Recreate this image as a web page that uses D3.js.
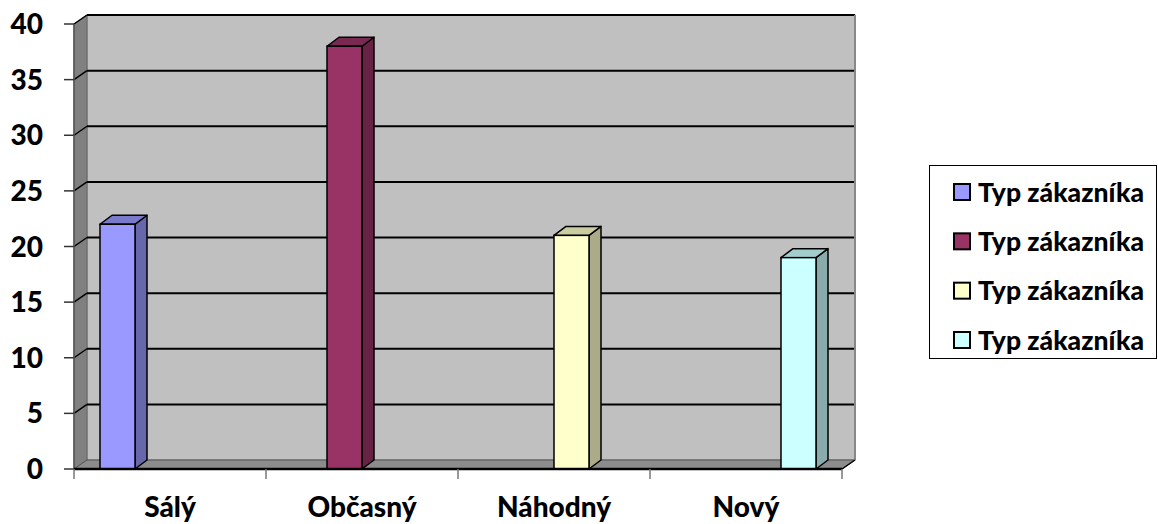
<!DOCTYPE html>
<html>
<head>
<meta charset="utf-8">
<script src="https://cdn.jsdelivr.net/npm/d3@7"></script>
<style>
  html, body { margin: 0; padding: 0; background: #fff; }
  svg { display: block; }
  text { font-family: "Lato", "Open Sans", sans-serif; font-weight: 900; fill: #000; }
</style>
</head>
<body>
<svg id="chart" width="1158" height="524"></svg>
<script>
// ---- data ----
const categories = ["Sálý", "Občasný", "Náhodný", "Nový"];
const seriesNames = ["Typ zákazníka", "Typ zákazníka", "Typ zákazníka", "Typ zákazníka"];
const series1 = [22, null, null, null];
const series2 = [null, 38, null, null];
const series3 = [null, null, 21, null];
const series4 = [null, null, null, 19];
const yTicks = [0, 5, 10, 15, 20, 25, 30, 35, 40];
const seriesColors = ["#9999FF", "#993366", "#FFFFCC", "#CCFFFF"];

const allSeries = [series1, series2, series3, series4];

// ---- layout ----
const svg = d3.select("#chart");
const front = { left: 74, right: 842, top: 24, bottom: 469 };
const depth = { dx: 13, dy: -9 };
const barDepth = { dx: 12, dy: -9 };

const x = d3.scaleBand().domain(categories).range([front.left, front.right]).padding(0);
const xInner = d3.scaleBand().domain(d3.range(allSeries.length)).range([0, x.bandwidth()])
  .paddingInner(0).paddingOuter(0.743);
const y = d3.scaleLinear().domain([0, 40]).range([front.bottom, front.top]);

const g = svg.append("g");

// back wall
g.append("rect")
  .attr("x", front.left + depth.dx).attr("y", y(40) + depth.dy)
  .attr("width", front.right - front.left).attr("height", y(0) - y(40))
  .attr("fill", "#C0C0C0").attr("stroke", "#808080").attr("stroke-width", 1);

// left side wall
const lw = [[front.left, y(40)], [front.left + depth.dx, y(40) + depth.dy],
            [front.left + depth.dx, y(0) + depth.dy], [front.left, y(0)]];
g.append("polygon").attr("points", lw.map(p => p.join(",")).join(" "))
  .attr("fill", "#808080").attr("stroke", "#666").attr("stroke-width", 1);

// floor
const fl = [[front.left, y(0)], [front.left + depth.dx, y(0) + depth.dy],
            [front.right + depth.dx, y(0) + depth.dy], [front.right, y(0)]];
g.append("polygon").attr("points", fl.map(p => p.join(",")).join(" "))
  .attr("fill", "#8c8c8c").attr("stroke", "#555").attr("stroke-width", 1);

// gridlines (back wall + side wall)
yTicks.filter(t => t > 0).forEach(t => {
  g.append("line")
    .attr("x1", front.left + depth.dx).attr("x2", front.right + depth.dx)
    .attr("y1", y(t) + depth.dy).attr("y2", y(t) + depth.dy)
    .attr("stroke", "#000").attr("stroke-width", 2);
  g.append("line")
    .attr("x1", front.left).attr("x2", front.left + depth.dx)
    .attr("y1", y(t)).attr("y2", y(t) + depth.dy)
    .attr("stroke", "#000").attr("stroke-width", 1.5);
});
// right edge of back wall
g.append("line")
  .attr("x1", front.right + depth.dx).attr("x2", front.right + depth.dx)
  .attr("y1", y(40) + depth.dy).attr("y2", y(0) + depth.dy)
  .attr("stroke", "#888").attr("stroke-width", 2);

// y axis line & ticks
g.append("line").attr("x1", front.left).attr("x2", front.left)
  .attr("y1", y(40)).attr("y2", y(0)).attr("stroke", "#555").attr("stroke-width", 1.5);
yTicks.forEach(t => {
  g.append("line").attr("x1", front.left - 10).attr("x2", front.left)
    .attr("y1", y(t)).attr("y2", y(t)).attr("stroke", "#333").attr("stroke-width", 1.5);
  g.append("text").attr("x", 43).attr("y", y(t)).attr("dy", "0.36em")
    .attr("text-anchor", "end").style("font-size", "28px").text(t);
});

// bars
const shade = (c, k) => { const h = d3.rgb(c); return d3.rgb(h.r * k, h.g * k, h.b * k).toString(); };
allSeries.forEach((vals, si) => {
  vals.forEach((v, ci) => {
    if (v == null) return;
    const x0 = x(categories[ci]) + xInner(si);
    const x1 = x0 + xInner.bandwidth();
    const yt = y(v), yb = y(0);
    const c = seriesColors[si];
    const side = [[x1, yt], [x1 + barDepth.dx, yt + barDepth.dy], [x1 + barDepth.dx, yb + barDepth.dy], [x1, yb]];
    const top = [[x0, yt], [x0 + barDepth.dx, yt + barDepth.dy], [x1 + barDepth.dx, yt + barDepth.dy], [x1, yt]];
    g.append("polygon").attr("points", side.map(p => p.join(",")).join(" "))
      .attr("fill", shade(c, 0.67)).attr("stroke", "#000").attr("stroke-width", 1.5).attr("stroke-linejoin", "round");
    g.append("polygon").attr("points", top.map(p => p.join(",")).join(" "))
      .attr("fill", shade(c, 0.8)).attr("stroke", "#000").attr("stroke-width", 1.5).attr("stroke-linejoin", "round");
    g.append("rect").attr("x", x0).attr("y", yt).attr("width", x1 - x0).attr("height", yb - yt)
      .attr("fill", c).attr("stroke", "#000").attr("stroke-width", 1.5);
  });
});

// x axis line & ticks
g.append("line").attr("x1", front.left).attr("x2", front.right)
  .attr("y1", y(0)).attr("y2", y(0)).attr("stroke", "#000").attr("stroke-width", 2.5);
g.append("line").attr("x1", front.right).attr("x2", front.right + depth.dx)
  .attr("y1", y(0)).attr("y2", y(0) + depth.dy).attr("stroke", "#000").attr("stroke-width", 1.5);
const xTickPos = categories.map(c => x(c)).concat([front.right]);
xTickPos.forEach(px => {
  g.append("line").attr("x1", px).attr("x2", px).attr("y1", y(0)).attr("y2", y(0) + 10)
    .attr("stroke", "#777").attr("stroke-width", 1.5);
});
categories.forEach(c => {
  g.append("text").attr("x", x(c) + x.bandwidth() / 2).attr("y", 517)
    .attr("text-anchor", "middle").style("font-size", "28px").text(c);
});

// legend
const lg = svg.append("g");
lg.append("rect").attr("x", 929.5).attr("y", 165.5).attr("width", 227).attr("height", 193)
  .attr("fill", "#fff").attr("stroke", "#000").attr("stroke-width", 1);
const legendY = d3.scalePoint().domain(d3.range(seriesNames.length)).range([192, 340]);
seriesNames.forEach((name, i) => {
  const cy = legendY(i);
  lg.append("rect").attr("x", 954).attr("y", cy - 8).attr("width", 16).attr("height", 16)
    .attr("fill", seriesColors[i]).attr("stroke", "#000").attr("stroke-width", 2);
  lg.append("text").attr("x", 978).attr("y", cy).attr("dy", "0.36em")
    .style("font-size", "26.5px").text(name);
});
</script>
</body>
</html>
